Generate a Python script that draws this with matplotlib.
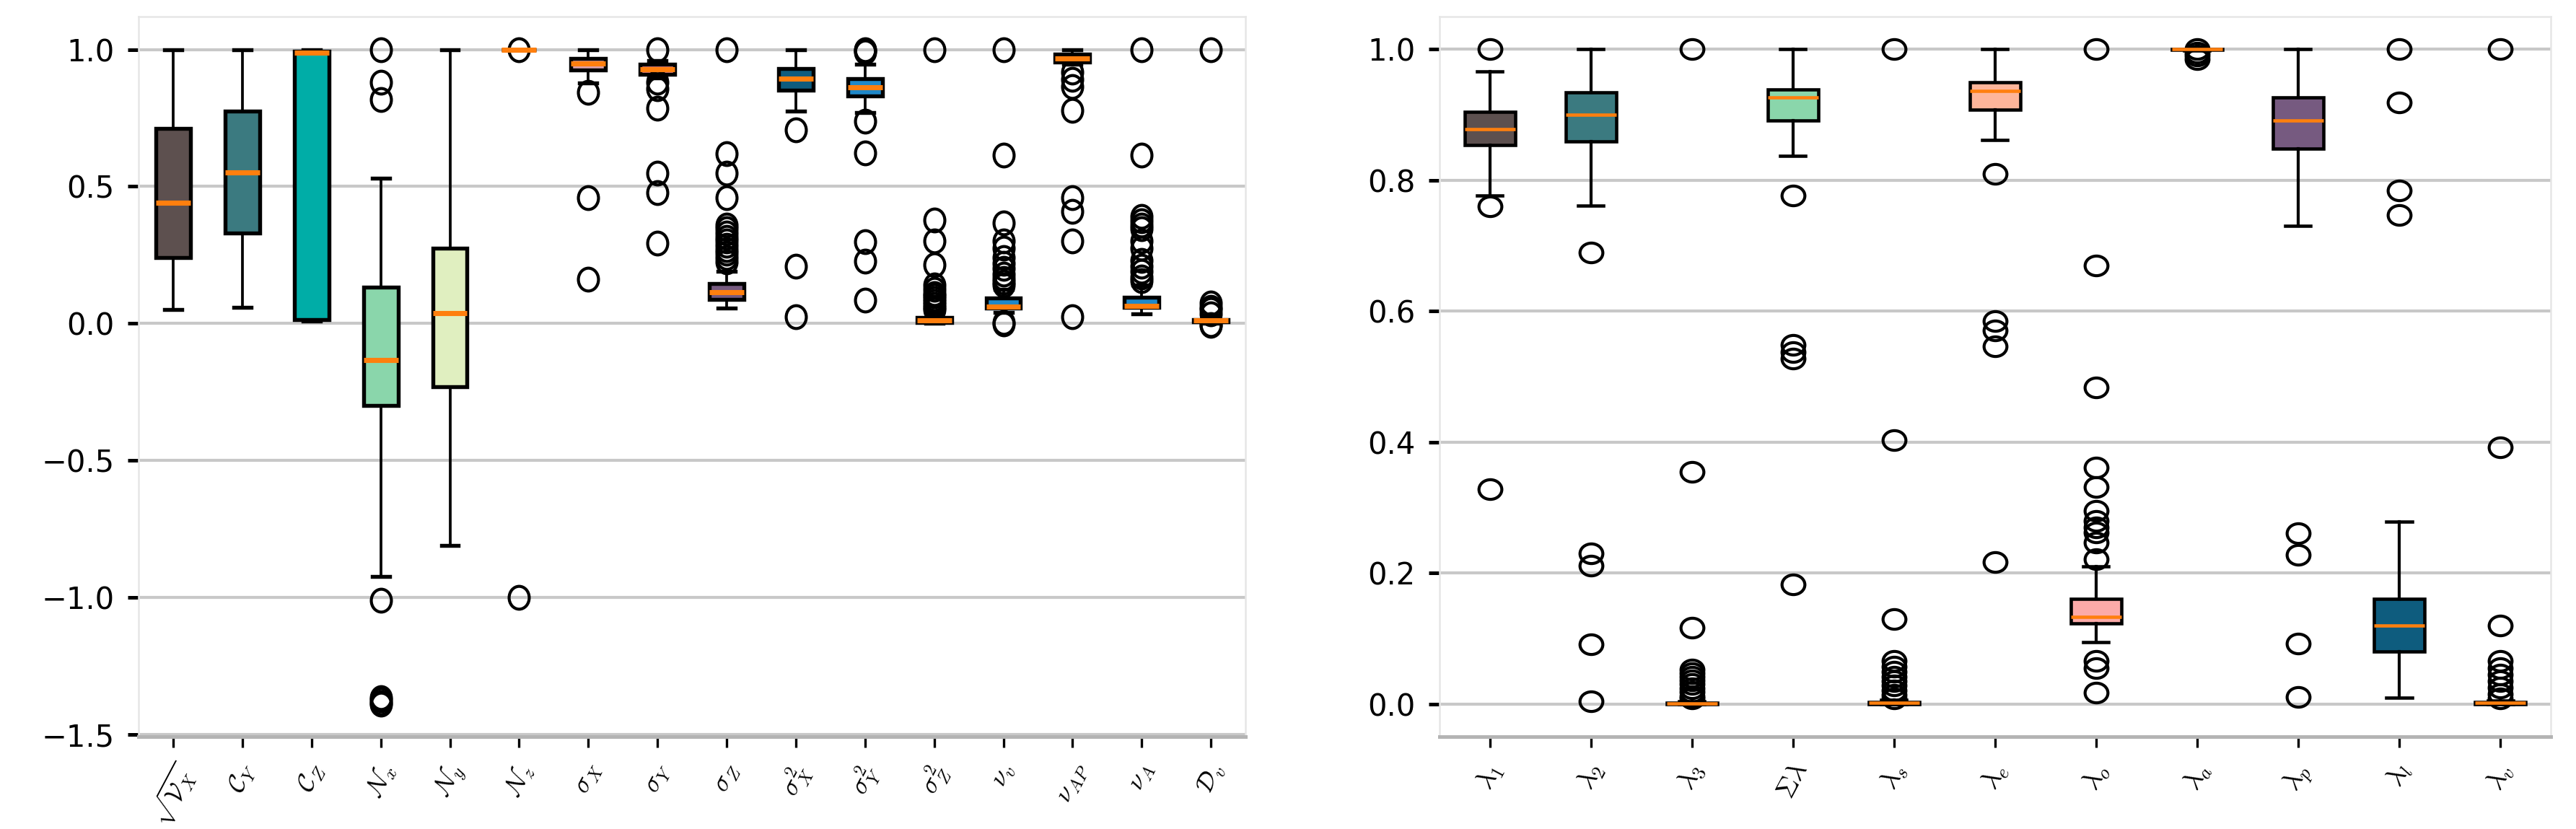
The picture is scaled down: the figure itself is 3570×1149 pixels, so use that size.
import numpy as np
import matplotlib
matplotlib.use('Agg')
import matplotlib.pyplot as plt
from matplotlib.path import Path

plt.rcParams['font.family'] = ['DejaVu Sans']
plt.rcParams['mathtext.fontset'] = 'cm'

# ---- left panel: box statistics ----
left_labels = [r'$\sqrt{\mathcal{V}_X}$', r'$\mathcal{C}_Y$', r'$\mathcal{C}_Z$',
               r'$\mathcal{N}_x$', r'$\mathcal{N}_y$', r'$\mathcal{N}_z$',
               r'$\sigma_X$', r'$\sigma_Y$', r'$\sigma_Z$',
               r'$\sigma^2_X$', r'$\sigma^2_Y$', r'$\sigma^2_Z$',
               r'$\nu_v$', r'$\nu_{AP}$', r'$\nu_A$', r'$\mathcal{D}_v$']
left_med = [0.441, 0.55, 0.988, -0.134, 0.038, 1.0, 0.949, 0.927, 0.113,
            0.894, 0.861, 0.011, 0.062, 0.968, 0.064, 0.011]
left_q1 = [0.241, 0.331, 0.015, -0.30, -0.23, 1.0, 0.924, 0.909, 0.088,
           0.852, 0.83, 0.003, 0.055, 0.955, 0.060, 0.005]
left_q3 = [0.712, 0.776, 0.994, 0.133, 0.275, 1.0, 0.967, 0.946, 0.145,
           0.93, 0.894, 0.022, 0.093, 0.984, 0.095, 0.015]
left_lo = [0.05, 0.059, 0.01, -0.924, -0.81, 1.0, 0.879, 0.895, 0.055,
           0.775, 0.77, 0.0, 0.04, 0.945, 0.035, 0.0]
left_hi = [1.0, 1.0, 1.0, 0.53, 1.0, 1.0, 1.0, 0.96, 0.19,
           1.0, 0.945, 0.04, 0.125, 1.0, 0.14, 0.03]
left_fliers = [
    [],
    [],
    [],
    [1.0, 0.88, 0.816, -1.01, -1.365, -1.375, -1.385, -1.39],
    [],
    [0.998, -1.0],
    [0.843, 0.46, 0.161],
    [1.0, 0.88, 0.857, 0.786, 0.548, 0.478, 0.293],
    [1.0, 0.619, 0.548, 0.46, 0.36, 0.345, 0.33, 0.315, 0.30, 0.285, 0.27, 0.255, 0.24, 0.225],
    [0.707, 0.21, 0.025],
    [1.0, 0.995, 0.99, 0.738, 0.621, 0.298, 0.227, 0.086],
    [1.0, 0.377, 0.302, 0.214, 0.14, 0.125, 0.11, 0.10, 0.09, 0.08, 0.07, 0.06, 0.05],
    [1.0, 0.614, 0.368, 0.302, 0.276, 0.24, 0.22, 0.20, 0.18, 0.165, 0.15, 0.14, 0.003, -0.002],
    [0.918, 0.89, 0.865, 0.777, 0.46, 0.41, 0.302, 0.025],
    [1.0, 0.614, 0.39, 0.375, 0.36, 0.345, 0.30, 0.276, 0.23, 0.21, 0.19, 0.17, 0.155],
    [1.0, 0.075, 0.06, 0.05, 0.035, -0.004, -0.008],
]
left_colors = ['#5d504f', '#3b7a80', '#00ada7', '#8ad6ab', '#e0efc0', '#fdb59a',
               '#dca2ab', '#f08a8f', '#765a80', '#0e5c7e', '#1f88c9', '#3a3a3a',
               '#1f88c9', '#f2a38f', '#1f88c9', '#5d504f']

# ---- right panel ----
right_labels = [r'$\lambda_1$', r'$\lambda_2$', r'$\lambda_3$', r'$\Sigma\lambda$',
                r'$\lambda_s$', r'$\lambda_e$', r'$\lambda_o$', r'$\lambda_a$',
                r'$\lambda_p$', r'$\lambda_l$', r'$\lambda_v$']
right_med = [0.878, 0.90, 0.001, 0.926, 0.002, 0.937, 0.133, 1.0, 0.891, 0.12, 0.002]
right_q1 = [0.854, 0.859, 0.0, 0.891, 0.0, 0.908, 0.123, 0.999, 0.848, 0.08, 0.0]
right_q3 = [0.904, 0.934, 0.002, 0.939, 0.003, 0.95, 0.16, 1.0, 0.926, 0.161, 0.003]
right_lo = [0.777, 0.761, 0.0, 0.837, 0.0, 0.862, 0.094, 0.998, 0.73, 0.01, 0.0]
right_hi = [0.966, 1.0, 0.004, 1.0, 0.006, 1.0, 0.21, 1.0, 1.0, 0.278, 0.005]
right_fliers = [
    [1.0, 0.76, 0.328],
    [0.69, 0.23, 0.211, 0.091, 0.004],
    [1.0, 0.355, 0.116, 0.052, 0.047, 0.042, 0.036, 0.03, 0.024, 0.018, 0.012, 0.008],
    [0.777, 0.549, 0.538, 0.527, 0.183],
    [1.0, 0.403, 0.13, 0.066, 0.057, 0.049, 0.042, 0.035, 0.028, 0.021, 0.014, 0.008],
    [0.81, 0.585, 0.571, 0.546, 0.217],
    [1.0, 0.67, 0.484, 0.361, 0.331, 0.295, 0.28, 0.27, 0.262, 0.247, 0.221, 0.066, 0.055, 0.017],
    [1.0, 0.995, 0.99, 0.985],
    [0.261, 0.228, 0.092, 0.011],
    [1.0, 0.919, 0.784, 0.747],
    [1.0, 0.392, 0.12, 0.066, 0.055, 0.045, 0.035, 0.025, 0.015, 0.008],
]
right_colors = ['#5d504f', '#3b7a80', '#00ada7', '#8ad6ab', '#e0efc0', '#fdb59a',
                '#fcaaa8', '#f2a38f', '#765a80', '#0e5c7e', '#1f88c9']


def make_stats(med, q1, q3, lo, hi, fliers):
    out = []
    for i in range(len(med)):
        out.append(dict(med=med[i], q1=q1[i], q3=q3[i], whislo=lo[i], whishi=hi[i],
                        fliers=np.array(fliers[i])))
    return out


def ellipse(sx, sy):
    c = Path.unit_circle()
    return Path(c.vertices * [sx, sy], c.codes)


def draw_panel(ax, stats, labels, colors, marker, msize, box_lw, med_lw, wsk_lw, lab_size):
    bp = ax.bxp(stats, positions=np.arange(1, len(stats) + 1), widths=0.5,
                patch_artist=True,
                boxprops=dict(linewidth=box_lw, edgecolor='black'),
                medianprops=dict(color='#ff7f0e', linewidth=med_lw),
                whiskerprops=dict(color='black', linewidth=wsk_lw),
                capprops=dict(color='black', linewidth=box_lw),
                flierprops=dict(marker=marker, markersize=msize, markerfacecolor='none',
                                markeredgecolor='black', markeredgewidth=1.0))
    for patch, col in zip(bp['boxes'], colors):
        patch.set_facecolor(col)
    ax.set_xticks(np.arange(1, len(stats) + 1))
    ax.set_xticklabels(labels, rotation=62, ha='center', va='top', fontsize=lab_size)
    ax.set_xlim(0.5, len(stats) + 0.5)
    ax.yaxis.grid(True, color='#c8c8c8', linewidth=1.0)
    ax.set_axisbelow(True)
    for s in ['left', 'top', 'right']:
        ax.spines[s].set_color('#e6e6e6')
        ax.spines[s].set_linewidth(0.6)
    ax.spines['bottom'].set_color('#b4b4b4')
    ax.spines['bottom'].set_linewidth(1.2)
    ax.tick_params(axis='y', length=3.5, width=1.2, color='black', labelsize=10, pad=4.5)
    ax.tick_params(axis='x', length=3.5, width=0.8, color='black', pad=4)


fig = plt.figure(figsize=(11.9, 3.83), dpi=300)
ax1 = fig.add_axes([0.0538, 0.1114, 0.4297, 0.8686])
ax2 = fig.add_axes([0.5588, 0.1114, 0.4314, 0.8686])

draw_panel(ax1, make_stats(left_med, left_q1, left_q3, left_lo, left_hi, left_fliers),
           left_labels, left_colors, ellipse(0.88, 1.0), 7.6, 1.3, 1.7, 0.9, 8.5)
ax1.set_ylim(-1.508, 1.12)
ax1.set_yticks([-1.5, -1.0, -0.5, 0.0, 0.5, 1.0])

draw_panel(ax2, make_stats(right_med, right_q1, right_q3, right_lo, right_hi, right_fliers),
           right_labels, right_colors, ellipse(1.0, 0.86), 7.6, 1.1, 1.1, 1.0, 9)
ax2.set_ylim(-0.05, 1.05)
ax2.set_yticks([0.0, 0.2, 0.4, 0.6, 0.8, 1.0])

fig.savefig('out.png', dpi=300)
